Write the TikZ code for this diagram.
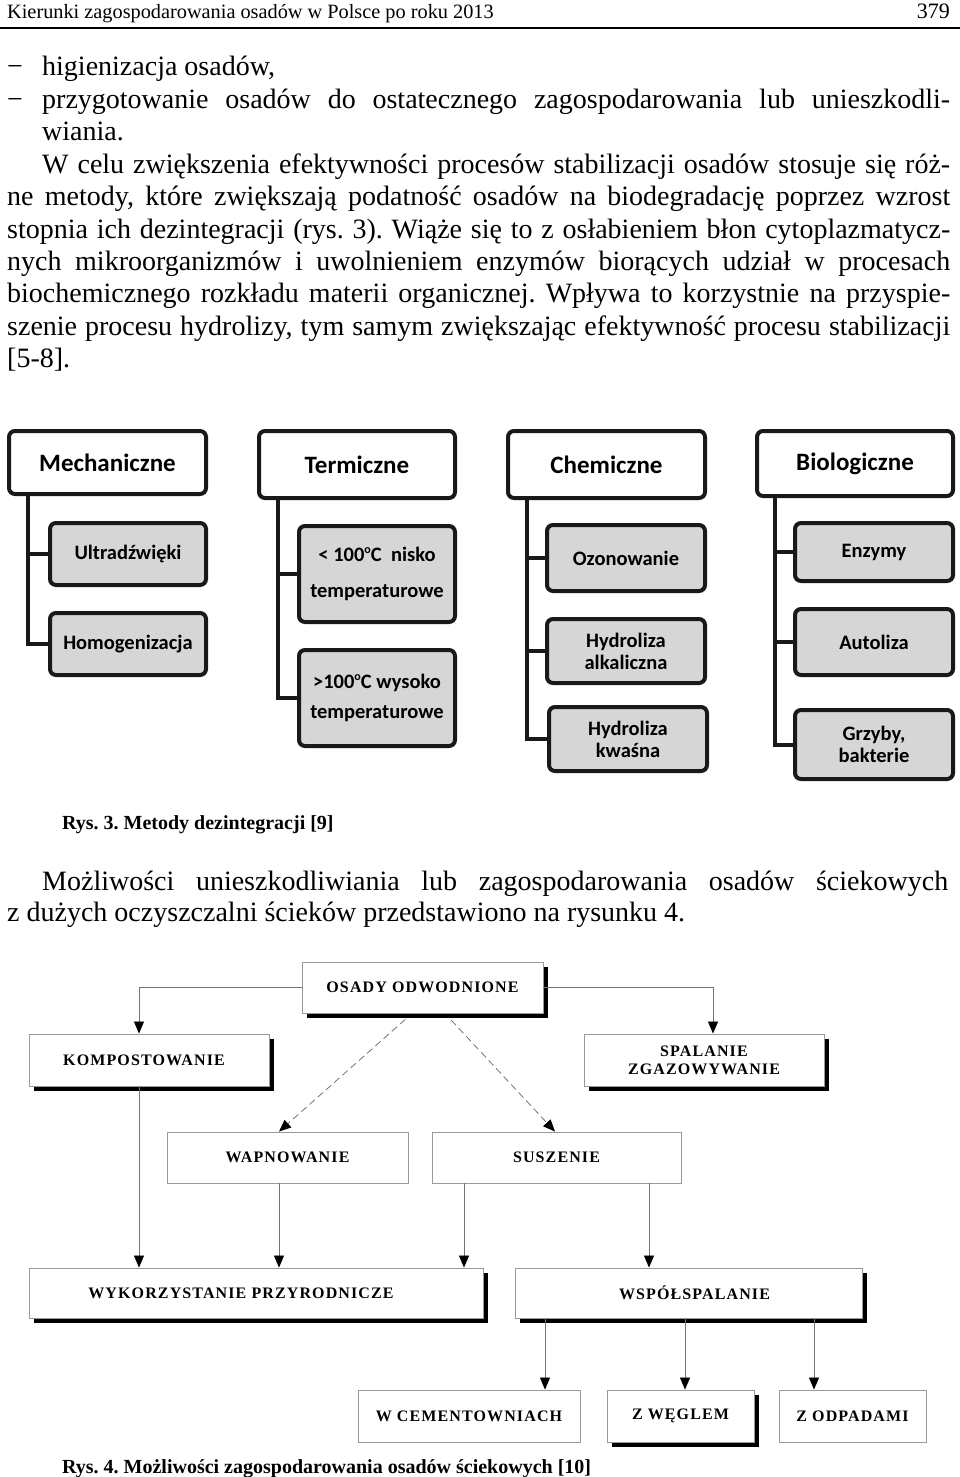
\documentclass[tikz,border=0pt]{standalone}
\usepackage{fontspec}
\setmainfont{Liberation Serif}
\newfontfamily\calibrifont{Carlito}
\newfontfamily\capsfont{Liberation Serif}[LetterSpace=7]
\usetikzlibrary{arrows.meta,shadows}
\frenchspacing
\newcommand{\smallo}{\raisebox{0.42em}{\fontsize{12}{12}\selectfont o}}
\begin{document}
\begin{tikzpicture}[x=1pt,y=-1pt,
  body/.style={anchor=base west, inner sep=0pt, font=\fontsize{28}{32}\selectfont},
  capt/.style={anchor=base west, inner sep=0pt, font=\bfseries\fontsize{20}{24}\selectfont},
  hbox/.style={draw=black!90, line width=4pt, rounded corners=6pt, fill=white, inner sep=0pt,
    align=center, font=\calibrifont\bfseries\fontsize{25}{30}\selectfont},
  sbox/.style={hbox, fill=black!16, font=\calibrifont\bfseries\fontsize{20.5}{22}\selectfont},
  conn/.style={draw=black!90, line width=4pt},
  fbox/.style={draw=black!40, line width=0.9pt, fill=white, inner sep=0pt, align=center,
    font=\capsfont\bfseries\fontsize{16}{19}\selectfont},
  shbox/.style={fbox, drop shadow={shadow xshift=5pt, shadow yshift=-5pt, fill=black, opacity=1}},
  arr/.style={draw=black!55, line width=0.8pt, -{Triangle[width=10pt,length=12pt,color=black]}},
  dasharr/.style={arr, dash pattern=on 7pt off 4pt}]
\useasboundingbox (0,0) rectangle (960,1477);

% ---------- page header ----------
\node[anchor=base west, inner sep=0pt, font=\fontsize{20.3}{24}\selectfont] (hdr) at (7,19)
  {Kierunki zagospodarowania osadów w Polsce po roku 2013};
\node[anchor=base east, inner sep=0pt, font=\fontsize{22}{24}\selectfont] (pg) at (950,19) {379};
\draw[line width=1.3pt] (0,28) -- (960,28);

% ---------- body text ----------
\node[body] (d1) at (7,76) {−};
\node[body] (l1) at (42,76) {higienizacja osadów,};
\node[body] (d2) at (7,108.4) {−};
\node[body] (l2) at (42,108.4) {\makebox[908pt][s]{przygotowanie osadów do ostatecznego zagospodarowania lub unieszkodli-}};
\node[body] (l3) at (42,140.8) {wiania.};
\node[body] (l4) at (42,173.2) {\makebox[908pt][s]{W celu zwiększenia efektywności procesów stabilizacji osadów stosuje się róż-}};
\node[body] (l5) at (7,205.6) {\makebox[943pt][s]{ne metody, które zwiększają podatność osadów na biodegradację poprzez wzrost}};
\node[body] (l6) at (7,238) {\makebox[943pt][s]{stopnia ich dezintegracji (rys. 3). Wiąże się to z osłabieniem błon cytoplazmatycz-}};
\node[body] (l7) at (7,270.4) {\makebox[943pt][s]{nych mikroorganizmów i uwolnieniem enzymów biorących udział w procesach}};
\node[body] (l8) at (7,302.8) {\makebox[943pt][s]{biochemicznego rozkładu materii organicznej. Wpływa to korzystnie na przyspie-}};
\node[body] (l9) at (7,335.2) {\makebox[943pt][s]{szenie procesu hydrolizy, tym samym zwiększając efektywność procesu stabilizacji}};
\node[body] (l10) at (7,367.6) {[5-8].};

% ---------- Rys. 3 ----------
\node[hbox, minimum width=197, minimum height=63] (mech) at (107.5,462.5) {Mechaniczne};
\node[sbox, minimum width=156, minimum height=62] (ultra) at (128,554) {Ultradźwięki};
\node[sbox, minimum width=156, minimum height=62] (homo) at (128,644) {Homogenizacja};
\coordinate (sM) at (28,0);
\draw[conn] (mech.south -| sM) |- (homo.west);
\draw[conn] (ultra.west) -- (ultra.west -| sM);

\node[hbox, minimum width=196, minimum height=67] (term) at (357,464.5) {Termiczne};
\node[sbox, minimum width=156, minimum height=96, font=\calibrifont\bfseries\fontsize{20.5}{36}\selectfont] (low) at (377,574)
  {<\ 100\smallo C\ \ nisko\\temperaturowe};
\node[sbox, minimum width=156, minimum height=96, font=\calibrifont\bfseries\fontsize{20.5}{30}\selectfont] (high) at (377,698)
  {>100\smallo C wysoko\\temperaturowe};
\coordinate (sT) at (278,0);
\draw[conn] (term.south -| sT) |- (high.west);
\draw[conn] (low.west) -- (low.west -| sT);

\node[hbox, minimum width=197, minimum height=67] (chem) at (606.5,464.5) {Chemiczne};
\node[sbox, minimum width=158, minimum height=66] (ozon) at (626,558) {Ozonowanie};
\node[sbox, minimum width=158, minimum height=64] (halk) at (626,651) {Hydroliza\\alkaliczna};
\node[sbox, minimum width=158, minimum height=64] (hkw) at (628,739) {Hydroliza\\kwaśna};
\coordinate (sC) at (527,0);
\draw[conn] (chem.south -| sC) |- (hkw.west);
\draw[conn] (ozon.west) -- (ozon.west -| sC);
\draw[conn] (halk.west) -- (halk.west -| sC);

\node[hbox, minimum width=196, minimum height=65] (bio) at (855,463.5) {Biologiczne};
\node[sbox, minimum width=158, minimum height=58] (enz) at (874,552) {Enzymy};
\node[sbox, minimum width=158, minimum height=66] (auto) at (874,642) {Autoliza};
\node[sbox, minimum width=158, minimum height=69] (grz) at (874,744.5) {Grzyby,\\bakterie};
\coordinate (sB) at (775,0);
\draw[conn] (bio.south -| sB) |- (grz.west);
\draw[conn] (enz.west) -- (enz.west -| sB);
\draw[conn] (auto.west) -- (auto.west -| sB);

\node[capt] (cap3) at (62,829) {Rys. 3. Metody dezintegracji [9]};

% ---------- paragraph ----------
\node[body] (p1) at (42,890) {\makebox[906pt][s]{Możliwości unieszkodliwiania lub zagospodarowania osadów ściekowych}};
\node[body] (p2) at (7,921) {z dużych oczyszczalni ścieków przedstawiono na rysunku 4.};

% ---------- Rys. 4 ----------
\node[shbox, minimum width=241, minimum height=51] (osady) at (422.5,987.5) {OSADY ODWODNIONE};
\node[shbox, minimum width=240, minimum height=52] (komp) at (149,1060) {\hspace*{-10pt}KOMPOSTOWANIE};
\node[shbox, minimum width=240, minimum height=52, font=\capsfont\bfseries\fontsize{16}{18}\selectfont] (spal) at (704,1060) {SPALANIE\\ZGAZOWYWANIE};
\node[fbox, minimum width=241, minimum height=51] (wapn) at (287.5,1157.5) {WAPNOWANIE};
\node[fbox, minimum width=249, minimum height=51] (susz) at (556.5,1157.5) {SUSZENIE};
\node[shbox, minimum width=454, minimum height=50] (wyk) at (256,1293) {WYKORZYSTANIE PRZYRODNICZE\hspace*{30pt}};
\node[shbox, minimum width=347, minimum height=50] (wsp) at (688.5,1293) {\hspace*{12pt}WSPÓŁSPALANIE};
\node[fbox, minimum width=222, minimum height=52] (wcem) at (469,1416) {W CEMENTOWNIACH};
\node[shbox, minimum width=147, minimum height=52] (zweg) at (680.5,1416) {Z WĘGLEM};
\node[fbox, minimum width=147, minimum height=52] (zodp) at (852.5,1416) {Z ODPADAMI};

\coordinate (xk) at (139,0);
\coordinate (xsp) at (713,0);
\coordinate (xa) at (412,0);
\coordinate (xb) at (445,0);
\coordinate (xw) at (279,0);
\coordinate (xu) at (555,0);
\coordinate (xs1) at (464,0);
\coordinate (xs2) at (649,0);
\coordinate (xc) at (545,0);
\coordinate (xg) at (685,0);
\coordinate (xo) at (814,0);

\draw[arr] (osady.west) -| (komp.north -| xk);
\draw[arr] (osady.east) -| (spal.north -| xsp);
\draw[dasharr, shorten <=9pt] (osady.south -| xa) -- (wapn.north -| xw);
\draw[dasharr, shorten <=9pt] (osady.south -| xb) -- (susz.north -| xu);
\draw[arr] (komp.south -| xk) -- (wyk.north -| xk);
\draw[arr] (wapn.south -| xw) -- (wyk.north -| xw);
\draw[arr] (susz.south -| xs1) -- (wyk.north -| xs1);
\draw[arr] (susz.south -| xs2) -- (wsp.north -| xs2);
\draw[arr] (wsp.south -| xc) -- (wcem.north -| xc);
\draw[arr] (wsp.south -| xg) -- (zweg.north -| xg);
\draw[arr] (wsp.south -| xo) -- (zodp.north -| xo);

\node[capt] (cap4) at (62,1473) {Rys. 4. Możliwości zagospodarowania osadów ściekowych [10]};
\end{tikzpicture}
\end{document}
